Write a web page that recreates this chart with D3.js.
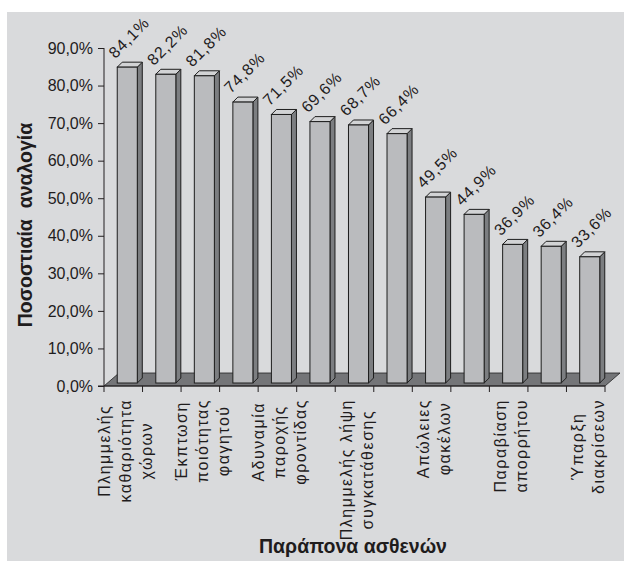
<!DOCTYPE html>
<html>
<head>
<meta charset="utf-8">
<script src="https://cdn.jsdelivr.net/npm/d3@7"></script>
<style>
  body { margin: 0; background: #fff; }
  text { font-family: "Liberation Sans", Arial, sans-serif; fill: #1f1c1d; }
</style>
</head>
<body>
<script>
// values (percent)
const values = [84.1, 82.2, 81.8, 74.8, 71.5, 69.6, 68.7, 66.4, 49.5, 44.9, 36.9, 36.4, 33.6];
// category labels, one array of lines per bar; only every other one is shown in the chart
const categories = [
  ["Πλημμελής", "καθαριότητα", "χώρων"], [],
  ["Έκπτωση", "ποιότητας", "φαγητού"], [],
  ["Αδυναμία", "παροχής", "φροντίδας"], [],
  ["Πλημμελής λήψη", "συγκατάθεσης"], [],
  ["Απώλειες", "φακέλων"], [],
  ["Παραβίαση", "απορρήτου"], [],
  ["Ύπαρξη", "διακρίσεων"]
];
const yTicks = [0, 10, 20, 30, 40, 50, 60, 70, 80, 90];
const yTitle = "Ποσοστιαία  αναλογία";
const xTitle = "Παράπονα ασθενών";

const W = 624, H = 561;
const svg = d3.select("body").append("svg")
  .attr("width", W).attr("height", H);

svg.append("rect")
  .attr("x", 7).attr("y", 12)
  .attr("width", W - 7).attr("height", H - 12)
  .attr("fill", "#d9dadc");

const x = d3.scaleBand()
  .domain(d3.range(values.length))
  .range([104, 605])
  .padding(0);

const y = d3.scaleLinear()
  .domain([0, 90])
  .range([386, 48]);

// 3D offsets
const floorDx = 15, floorDy = -13;
const barShift = 4;          // bars sit a little behind the front edge
const depthDx = 5, depthDy = -5;
const barW = x.bandwidth() * 0.52;

// floor
const x0 = x.range()[0], x1 = x.range()[1], y0 = y(0);
svg.append("polygon")
  .attr("points", [[x0, y0], [x1, y0], [x1 + floorDx, y0 + floorDy], [x0 + floorDx, y0 + floorDy]].join(" "))
  .attr("fill", "#747578")
  .attr("stroke", "#222").attr("stroke-width", 0.8);

// bars
const bars = svg.selectAll(".bar")
  .data(values)
  .enter().append("g")
  .attr("class", "bar");

const bx = (d, i) => x(i) + (x.bandwidth() - barW) / 2 + barShift;
const by = d => y(d) - barShift + 1;
const bb = y(0) - barShift + 1;

bars.append("polygon")
  .attr("points", (d, i) => {
    const l = bx(d, i) + barW, t = by(d);
    return [[l, t], [l + depthDx, t + depthDy], [l + depthDx, bb + depthDy], [l, bb]].join(" ");
  })
  .attr("fill", "#7c7e81")
  .attr("stroke", "#1e1e1e").attr("stroke-width", 1);

bars.append("polygon")
  .attr("points", (d, i) => {
    const l = bx(d, i), t = by(d);
    return [[l, t], [l + barW, t], [l + barW + depthDx, t + depthDy], [l + depthDx, t + depthDy]].join(" ");
  })
  .attr("fill", "#d2d3d5")
  .attr("stroke", "#1e1e1e").attr("stroke-width", 1);

bars.append("rect")
  .attr("x", bx)
  .attr("y", by)
  .attr("width", barW)
  .attr("height", d => bb - by(d))
  .attr("fill", "#babbbe")
  .attr("stroke", "#1e1e1e").attr("stroke-width", 1);

// value labels
bars.append("text")
  .attr("transform", (d, i) => "translate(" + (bx(d, i) - 2) + "," + (by(d) - 8) + ") rotate(-45)")
  .style("font-size", "16px")
  .style("letter-spacing", "0.9px")
  .text(d => d.toFixed(1).replace(".", ",") + "%");

// y axis
const yAxis = d3.axisLeft(y)
  .tickValues(yTicks)
  .tickSize(6)
  .tickPadding(5)
  .tickFormat(d => d.toFixed(1).replace(".", ",") + "%");

const gy = svg.append("g")
  .attr("transform", "translate(" + x0 + ",0)")
  .call(yAxis);
gy.select(".domain").attr("stroke", "#231f20").attr("d", "M0," + y(90) + "V" + y(0));
gy.selectAll(".tick line").attr("stroke", "#231f20");
gy.selectAll(".tick text")
  .style("font-size", "16px")
  .style("font-family", "'Liberation Sans', Arial, sans-serif")
  .attr("fill", "#1f1c1d");

// x axis: line along the floor front, ticks at band edges
svg.append("line")
  .attr("x1", x0 - 6).attr("x2", x1)
  .attr("y1", y0).attr("y2", y0)
  .attr("stroke", "#231f20");
const edges = d3.range(values.length + 1).map(i => i < values.length ? x(i) : x1);
svg.selectAll(".xtick")
  .data(edges)
  .enter().append("line")
  .attr("x1", d => d).attr("x2", d => d)
  .attr("y1", y0).attr("y2", y0 + 6)
  .attr("stroke", "#231f20");

// category labels (rotated, one column per line)
const lineGap = 21;
categories.forEach((lines, i) => {
  if (!lines.length) return;
  const cx = x(i) + x.bandwidth() / 2 + 2;
  const g = svg.append("g");
  const texts = lines.map((s, j) => g.append("text")
    .style("font-size", "16px")
    .style("letter-spacing", "1.5px")
    .attr("text-anchor", "middle")
    .attr("dy", "0.35em")
    .text(s));
  const maxLen = d3.max(texts, t => t.node().getComputedTextLength());
  const cy = 399 + maxLen / 2;
  texts.forEach((t, j) => {
    const px = cx + (j - (lines.length - 1) / 2) * lineGap;
    t.attr("transform", "translate(" + px + "," + cy + ") rotate(-90)");
  });
});

// axis titles
svg.append("text")
  .attr("transform", "translate(32,225) rotate(-90)")
  .attr("text-anchor", "middle")
  .style("font-size", "19.5px")
  .style("font-weight", "bold")
  .style("white-space", "pre")
  .text(yTitle);

svg.append("text")
  .attr("x", 353).attr("y", 553)
  .attr("text-anchor", "middle")
  .style("font-size", "19.5px")
  .style("font-weight", "bold")
  .text(xTitle);
</script>
</body>
</html>
